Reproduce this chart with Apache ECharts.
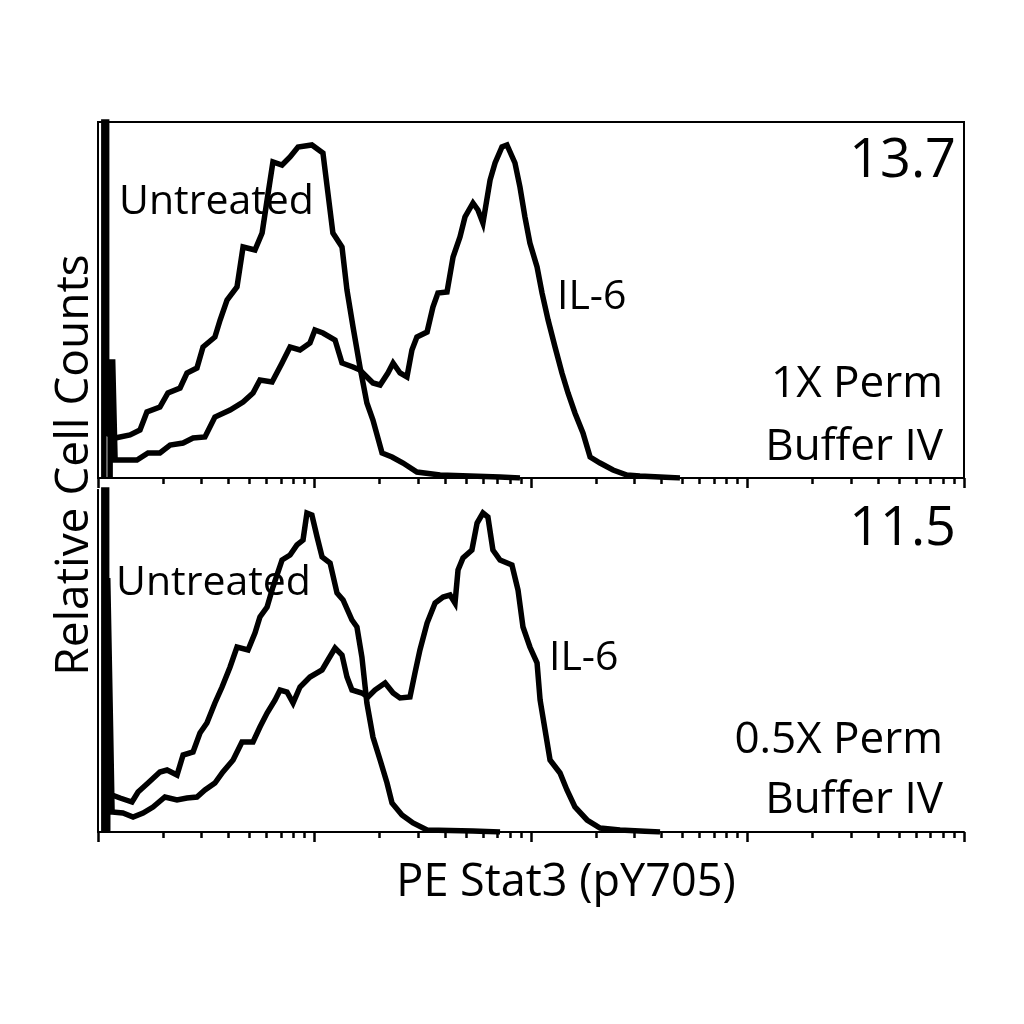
<!DOCTYPE html>
<html>
<head>
<meta charset="utf-8">
<script src="https://cdn.jsdelivr.net/npm/echarts@6/dist/echarts.min.js"></script>
<style>
html,body{margin:0;padding:0;background:#fff;}
#main{width:1024px;height:1024px;}
</style>
</head>
<body>
<div id="main"></div>
<script>
// x values are log10(PE Stat3 intensity), y values are relative counts
var decades=[0,1,2,3,4];
var minorSteps=[2,3,4,5,6,7,8,9];

// panel 1 : 1X Perm Buffer IV
var untreated1X=[0.027,0.027,0.040,0.040,0.079,0.148,0.194,0.226,0.286,0.323,0.379,0.411,0.457,0.485,0.540,0.564,0.596,0.642,0.670,0.725,0.758,0.781,0.808,0.850,0.887,0.924,0.988,1.039,1.062,1.085,1.127,1.150,1.178,1.210,1.242,1.270,1.312,1.358,1.409,1.473,1.580,1.718,1.857,1.949];
var untreated1Y=[0,500,500,45,40,43,48,66,71,85,90,105,110,131,141,158,178,191,231,228,245,278,316,313,321,331,333,325,285,245,231,188,151,111,75,58,25,21,15,6,3,2,1,0];
var il6_1X=[0.056,0.056,0.068,0.079,0.115,0.180,0.231,0.286,0.333,0.393,0.439,0.494,0.540,0.610,0.670,0.716,0.748,0.804,0.850,0.887,0.933,0.979,1.002,1.039,1.095,1.127,1.178,1.210,1.242,1.270,1.303,1.339,1.363,1.395,1.427,1.450,1.473,1.520,1.547,1.570,1.612,1.640,1.672,1.695,1.732,1.755,1.778,1.811,1.834,1.866,1.889,1.926,1.949,1.972,1.995,2.028,2.051,2.079,2.111,2.143,2.171,2.203,2.240,2.273,2.319,2.379,2.443,2.503,2.596,2.688];
var il6_1Y=[0,116,116,18,18,18,25,25,33,35,40,41,61,68,76,85,98,96,115,131,128,135,148,145,138,115,111,108,101,95,93,105,115,105,101,128,141,146,171,185,186,221,241,261,275,268,255,298,315,331,333,315,291,261,235,211,185,158,131,105,85,65,45,21,15,8,3,2,1,0];

// panel 2 : 0.5X Perm Buffer IV
var untreated2X=[0.027,0.027,0.040,0.040,0.065,0.102,0.157,0.185,0.231,0.286,0.319,0.365,0.393,0.439,0.471,0.503,0.540,0.573,0.610,0.642,0.693,0.725,0.748,0.781,0.808,0.850,0.887,0.919,0.947,0.965,0.988,1.012,1.035,1.072,1.104,1.132,1.173,1.196,1.219,1.242,1.270,1.303,1.335,1.358,1.404,1.455,1.520,1.732,1.857];
var untreated2Y=[0,500,500,40,37,34,30,40,49,60,62,57,77,80,99,109,129,145,165,185,182,199,215,225,245,272,277,287,292,319,317,295,275,269,239,232,212,205,175,129,95,72,49,29,17,9,2,1,0];
var il6_2X=[0.045,0.045,0.052,0.058,0.065,0.115,0.162,0.208,0.254,0.309,0.365,0.411,0.457,0.494,0.540,0.577,0.624,0.665,0.716,0.748,0.781,0.818,0.841,0.873,0.901,0.933,0.979,1.035,1.062,1.095,1.127,1.150,1.173,1.219,1.247,1.279,1.326,1.363,1.395,1.441,1.464,1.487,1.520,1.557,1.594,1.626,1.649,1.663,1.686,1.727,1.751,1.778,1.801,1.824,1.857,1.912,1.940,1.963,1.995,2.028,2.042,2.065,2.088,2.134,2.166,2.203,2.259,2.319,2.411,2.503,2.596];
var il6_2Y=[0,254,254,105,20,19,15,19,25,35,32,34,35,42,49,60,72,90,90,105,119,132,142,140,129,145,155,162,172,184,177,155,142,139,135,142,149,139,134,135,159,182,209,229,235,237,229,262,274,282,309,319,315,282,272,267,242,205,185,169,132,102,72,59,42,25,12,4,2,1,0];

var panelNumbers=['13.7','11.5'];
var panelLabels=[['1X Perm','Buffer IV'],['0.5X Perm','Buffer IV']];

var minorTicks=[];
for(var d=0;d<decades.length-1;d++){
	for(var k=0;k<minorSteps.length;k++) minorTicks.push(decades[d]+Math.log10(minorSteps[k]));
}

var zip=function(xs,ys){
	var out=[];
	for(var i=0;i<xs.length;i++) out.push([xs[i],ys[i]]);
	return out;
};

var FONT='"Open Sans", sans-serif';
var lineStyle={color:'#000',width:5.5,join:'miter'};

var mkX=function(gi,minor){
	return {
		type:'value',gridIndex:gi,min:0,max:4,position:'bottom',
		axisLine:{show:!minor,lineStyle:{color:'#000',width:2}},
		axisTick:minor?
			{show:true,length:6,customValues:minorTicks,lineStyle:{color:'#000',width:2.5}}:
			{show:true,length:10,customValues:decades,lineStyle:{color:'#000',width:2.5}},
		axisLabel:{show:false},
		splitLine:{show:false}
	};
};

var mkY=function(gi,max,pos,showLine){
	return {
		type:'value',gridIndex:gi,min:0,max:max,position:pos,
		axisLine:{show:showLine,lineStyle:{color:'#000',width:2}},
		axisTick:{show:false},axisLabel:{show:false},splitLine:{show:false}
	};
};

var mkText=function(x,y,txt,size,align){
	return {type:'text',x:x,y:y,style:{text:txt,fill:'#000',font:size+'px '+FONT,textAlign:align,textVerticalAlign:'middle'}};
};

var chart=echarts.init(document.getElementById('main'));
var option={
	animation:false,
	backgroundColor:'#fff',
	grid:[
		{left:98,top:122,width:866,height:356,show:true,borderColor:'#000',borderWidth:2},
		{left:98,top:490,width:866,height:342}
	],
	xAxis:[mkX(0,false),mkX(0,true),mkX(1,false),mkX(1,true)],
	yAxis:[mkY(0,356,'left',false),mkY(1,342,'left',true),mkY(1,342,'right',true)],
	series:[
		{name:'Untreated 1X',type:'line',xAxisIndex:0,yAxisIndex:0,data:zip(untreated1X,untreated1Y),showSymbol:false,lineStyle:lineStyle},
		{name:'IL-6 1X',type:'line',xAxisIndex:0,yAxisIndex:0,data:zip(il6_1X,il6_1Y),showSymbol:false,lineStyle:lineStyle},
		{name:'Untreated 0.5X',type:'line',xAxisIndex:2,yAxisIndex:1,data:zip(untreated2X,untreated2Y),showSymbol:false,lineStyle:lineStyle},
		{name:'IL-6 0.5X',type:'line',xAxisIndex:2,yAxisIndex:1,data:zip(il6_2X,il6_2Y),showSymbol:false,lineStyle:lineStyle}
	],
	graphic:[
		mkText(119,202,'Untreated',41,'left'),
		mkText(557,297,'IL-6',41,'left'),
		mkText(956,162,panelNumbers[0],54,'right'),
		mkText(943,384,panelLabels[0][0],44,'right'),
		mkText(943,447,panelLabels[0][1],44,'right'),
		mkText(116,583,'Untreated',41,'left'),
		mkText(549,658,'IL-6',41,'left'),
		mkText(956,530,panelNumbers[1],54,'right'),
		mkText(943,740,panelLabels[1][0],44,'right'),
		mkText(943,800,panelLabels[1][1],44,'right'),
		mkText(566,883,'PE Stat3 (pY705)',45,'center'),
		{type:'text',x:75,y:465,rotation:Math.PI/2,style:{text:'Relative Cell Counts',fill:'#000',font:'46px '+FONT,textAlign:'center',textVerticalAlign:'middle'}}
	]
};
chart.setOption(option);
</script>
</body>
</html>
